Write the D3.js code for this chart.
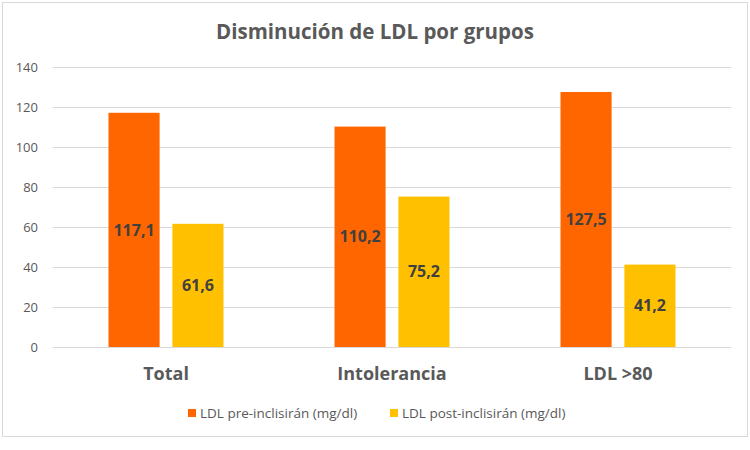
<!DOCTYPE html>
<html>
<head>
<meta charset="utf-8">
<script src="https://cdn.jsdelivr.net/npm/d3@7"></script>
<style>
body{margin:0;background:#fff;}
text{font-family:"Open Sans",sans-serif;}
</style>
</head>
<body>
<svg id="chart" width="750" height="450"></svg>
<script>
// datos
var grupos=["Total","Intolerancia","LDL >80"];
var series=["LDL pre-inclisirán (mg/dl)","LDL post-inclisirán (mg/dl)"];
var pre=[117.1,110.2,127.5];
var post=[61.6,75.2,41.2];
var yTicks=[0,20,40,60,80,100,120,140];
var colores=["#FF6600","#FFC000"];

var svg=d3.select("#chart");
var m_left=53,m_right=731,m_top=67,m_bottom=347;

// marco
svg.append("rect")
    .attr("x",2.5).attr("y",2.5)
    .attr("width",745).attr("height",434)
    .attr("fill","#fff")
    .attr("stroke","#D9D9D9");

svg.append("text")
    .attr("x",375).attr("y",39)
    .attr("text-anchor","middle")
    .attr("font-size",20.5)
    .attr("font-weight","bold")
    .attr("fill","#595959")
    .text("Disminución de LDL por grupos");

var y=d3.scaleLinear().domain([0,140]).range([m_bottom,m_top]);
var x0=d3.scaleBand().domain(grupos).range([m_left,m_right]).paddingInner(0).paddingOuter(0);
var x1=d3.scaleBand().domain([0,1]).range([0,115]).paddingInner(0.2);

//grid
var yAxis=svg.append("g")
    .attr("transform","translate("+m_left+",0)")
    .call(d3.axisLeft(y).tickValues(yTicks).tickSize(-(m_right-m_left)).tickPadding(15));
yAxis.select(".domain").remove();
yAxis.selectAll("line").attr("stroke","#D9D9D9");
yAxis.selectAll("text")
    .attr("font-size",13)
    .attr("fill","#595959")
    .style("font-family","'Open Sans',sans-serif");

var data=grupos.map(function(g,i){return {g:g,v:[pre[i],post[i]]};});

var grp=svg.selectAll(".grp")
    .data(data)
    .enter().append("g")
    .attr("transform",function(d){return "translate("+(x0(d.g)+(x0.bandwidth()-115)/2)+",0)";});

grp.selectAll("rect")
    .data(function(d){return d.v;})
    .enter().append("rect")
    .attr("x",function(d,i){return x1(i);})
    .attr("y",function(d){return y(d);})
    .attr("width",x1.bandwidth())
    .attr("height",function(d){return m_bottom-y(d);})
    .attr("fill",function(d,i){return colores[i];});

grp.selectAll(".lbl")
    .data(function(d){return d.v;})
    .enter().append("text")
    .attr("x",function(d,i){return x1(i)+x1.bandwidth()/2;})
    .attr("y",function(d){return (y(d)+m_bottom)/2;})
    .attr("dy","0.35em")
    .attr("text-anchor","middle")
    .attr("font-size",16)
    .attr("font-weight","bold")
    .attr("fill","#404040")
    .text(function(d){return d3.format(".1f")(d).replace(".",",");});

// etiquetas de categoria
svg.selectAll(".cat")
    .data(grupos)
    .enter().append("text")
    .attr("x",function(d){return x0(d)+x0.bandwidth()/2;})
    .attr("y",374)
    .attr("dy","0.35em")
    .attr("text-anchor","middle")
    .attr("font-size",18)
    .attr("font-weight","bold")
    .attr("fill","#595959")
    .text(function(d){return d;});

// leyenda
var legX=[188,390];
var leg=svg.selectAll(".leg")
    .data(series)
    .enter().append("g")
    .attr("transform",function(d,i){return "translate("+legX[i]+",413)";});
leg.append("rect")
    .attr("x",0).attr("y",-4)
    .attr("width",8).attr("height",8)
    .attr("fill",function(d,i){return colores[i];});
leg.append("text")
    .attr("x",12).attr("y",0)
    .attr("dy","0.35em")
    .attr("font-size",13.5)
    .attr("fill","#595959")
    .text(function(d){return d;});
</script>
</body>
</html>
